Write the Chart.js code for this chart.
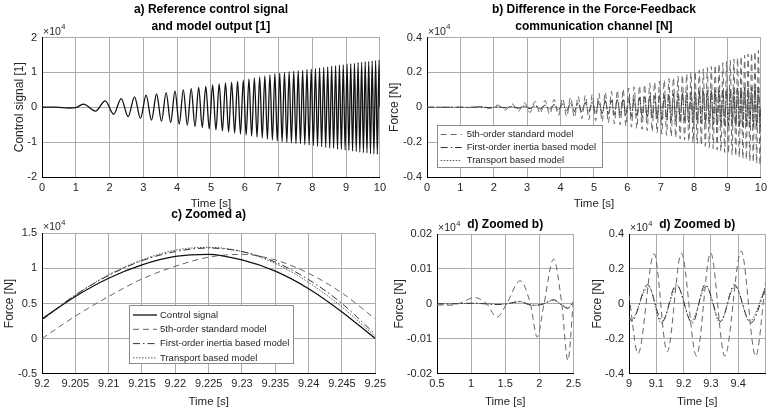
<!DOCTYPE html>
<html>
<head>
<meta charset="utf-8">
<script src="https://cdn.jsdelivr.net/npm/chart.js@4.4.0/dist/chart.umd.min.js"></script>
<style>
body { margin: 0; background: #fff; width: 771px; height: 412px; overflow: hidden; position: relative; }
canvas { position: absolute; }
</style>
</head>
<body>
<canvas id="ca" width="390" height="212" style="left:0;top:0"></canvas>
<canvas id="cb" width="386" height="212" style="left:385px;top:0"></canvas>
<canvas id="cc" width="390" height="207" style="left:0;top:205px"></canvas>
<canvas id="cdl" width="200" height="207" style="left:385px;top:205px"></canvas>
<canvas id="cdr" width="186" height="207" style="left:585px;top:205px"></canvas>
<script>
'use strict'
// all values in units of 1e4 (the "x10^4" on each axis)
let labels = ['Control signal', '5th-order standard model', 'First-order inertia based model', 'Transport based model'];

// times of the extrema of the chirp (read from a) and b))
let tExt = [0, 0.4, 0.8, 1.0,
1.225,1.581,1.871,2.121,2.345,2.55,2.739,2.915,3.082,3.24,
3.391,3.536,3.674,3.808,3.937,4.062,4.183,4.301,4.416,4.528,
4.637,4.743,4.848,4.95,5.05,5.148,5.244,5.339,5.431,5.523,
5.612,5.701,5.788,5.874,5.958,6.042,6.124,6.205,6.285,6.364,
6.442,6.519,6.595,6.671,6.745,6.819,6.892,6.964,7.036,7.106,
7.176,7.246,7.314,7.382,7.45,7.517,7.583,7.649,7.714,7.778,
7.842,7.906,7.969,8.031,8.093,8.155,8.216,8.276,8.337,8.396,
8.456,8.515,8.573,8.631,8.689,8.746,8.803,8.86,8.916,8.972,
9.028,9.083,9.138,9.192,9.247,9.301,9.354,9.407,9.46,9.513,
9.566,9.618,9.67,9.721,9.772,9.823,9.874,9.925,9.975,
10];

// a) control signal
let sigA = [0, 0.004, -0.022, -0.012,
0.09,-0.11,0.18,-0.2,0.25,-0.27,0.3,-0.32,0.35,-0.37,
0.38,-0.4,0.42,-0.44,0.46,-0.48,0.5,-0.51,0.53,-0.55,
0.57,-0.58,0.6,-0.62,0.64,-0.65,0.67,-0.68,0.7,-0.71,
0.72,-0.74,0.75,-0.77,0.78,-0.8,0.81,-0.83,0.84,-0.86,
0.87,-0.88,0.9,-0.91,0.93,-0.94,0.96,-0.97,0.98,-0.99,
1.0,-1.01,1.02,-1.02,1.03,-1.04,1.05,-1.05,1.06,-1.07,
1.08,-1.08,1.09,-1.1,1.11,-1.12,1.13,-1.13,1.14,-1.15,
1.16,-1.17,1.18,-1.18,1.19,-1.2,1.21,-1.21,1.22,-1.23,
1.24,-1.24,1.25,-1.26,1.26,-1.27,1.28,-1.29,1.29,-1.3,
1.31,-1.31,1.32,-1.33,1.33,-1.34,1.34,-1.35,1.35,
0];

// b) differences
let bDash = [0, 0, -0.0003, 0.0002,
-0.002,0.004,-0.007,0.012,-0.016,0.019,-0.023,0.027,-0.03,0.033,
-0.036,0.039,-0.042,0.045,-0.048,0.051,-0.054,0.057,-0.06,0.063,
-0.066,0.068,-0.071,0.074,-0.077,0.08,-0.083,0.086,-0.089,0.092,
-0.095,0.098,-0.101,0.104,-0.108,0.111,-0.114,0.117,-0.121,0.124,
-0.127,0.13,-0.134,0.137,-0.14,0.144,-0.147,0.15,-0.154,0.157,
-0.161,0.164,-0.168,0.171,-0.175,0.178,-0.182,0.185,-0.189,0.192,
-0.196,0.199,-0.203,0.206,-0.21,0.213,-0.217,0.22,-0.224,0.227,
-0.231,0.234,-0.238,0.241,-0.245,0.248,-0.252,0.255,-0.259,0.262,
-0.266,0.27,-0.273,0.277,-0.28,0.284,-0.287,0.291,-0.294,0.298,
-0.301,0.305,-0.308,0.312,-0.315,0.319,-0.322,0.326,-0.33,
0];
let bDashDot = [0, 0, 0, 0.0001,
-0.0006,0.001,-0.0017,0.0022,-0.003,0.0042,-0.0052,0.0065,-0.0082,0.0095,
-0.011,0.0125,-0.014,0.0155,-0.017,0.019,-0.02,0.022,-0.0235,0.025,
-0.027,0.028,-0.03,0.032,-0.033,0.035,-0.036,0.038,-0.04,0.041,
-0.043,0.044,-0.046,0.048,-0.049,0.051,-0.052,0.054,-0.055,0.057,
-0.058,0.06,-0.061,0.063,-0.065,0.066,-0.068,0.069,-0.071,0.072,
-0.074,0.075,-0.076,0.078,-0.079,0.08,-0.082,0.083,-0.084,0.086,
-0.087,0.088,-0.089,0.091,-0.092,0.093,-0.094,0.095,-0.096,0.097,
-0.098,0.099,-0.1,0.101,-0.102,0.103,-0.104,0.105,-0.105,0.106,
-0.107,0.108,-0.109,0.109,-0.11,0.111,-0.111,0.112,-0.113,0.113,
-0.114,0.114,-0.115,0.115,-0.116,0.116,-0.117,0.117,-0.118,
0];
let bDot = [0, 0, 0, 0.0001,
-0.0005,0.001,-0.0015,0.002,-0.003,0.004,-0.005,0.006,-0.008,0.009,
-0.01,0.012,-0.013,0.015,-0.016,0.018,-0.019,0.021,-0.022,0.024,
-0.025,0.027,-0.028,0.03,-0.031,0.033,-0.034,0.036,-0.037,0.039,
-0.04,0.042,-0.043,0.045,-0.046,0.048,-0.049,0.051,-0.052,0.054,
-0.055,0.057,-0.058,0.06,-0.061,0.063,-0.064,0.066,-0.067,0.069,
-0.07,0.071,-0.073,0.074,-0.075,0.077,-0.078,0.079,-0.08,0.082,
-0.083,0.084,-0.085,0.087,-0.088,0.089,-0.09,0.091,-0.092,0.093,
-0.094,0.095,-0.096,0.097,-0.098,0.099,-0.1,0.1,-0.101,0.102,
-0.103,0.104,-0.104,0.105,-0.106,0.107,-0.107,0.108,-0.109,0.109,
-0.11,0.111,-0.111,0.112,-0.112,0.113,-0.113,0.114,-0.114,
0];

// c) zoomed a)
let cT = [9.2,9.205,9.21,9.215,9.22,9.225,9.23,9.235,9.24,9.245,9.25];
let cCtrl = [0.28,0.6,0.86,1.05,1.17,1.2,1.12,0.96,0.71,0.38,0.0];
let cDash = [0.0,0.32,0.6,0.85,1.03,1.16,1.2,1.12,0.93,0.65,0.28];
let cDashDot = [0.27,0.62,0.9,1.11,1.24,1.29,1.24,1.09,0.84,0.5,0.06];
let cDot = [0.26,0.62,0.91,1.12,1.26,1.3,1.24,1.07,0.8,0.45,0.03];

// d) zoomed b), start of the run
let dlT = [0.5,0.7,0.85,1.05,1.22,1.38,1.52,1.72,1.87,1.97,2.07,2.21,2.33,2.42,2.5];
let dlDash = [-0.0003,-0.0004,0.0003,0.0018,0.0002,-0.0038,0.0,0.0066,0.0,-0.0095,0.0,0.0128,0.0,-0.0162,0.001];
let dlDashDot = [0,0,0.0001,0.0002,0.0,-0.0002,0.0,0.0007,-0.0003,-0.0004,0.0,0.0012,-0.0004,-0.0013,0.0005];
let dlDot = [0,0,0.0001,0.0001,0.0,-0.0001,0.0,0.0006,-0.0004,-0.0003,0.0002,0.001,-0.0002,-0.0011,0.0006];

// d) zoomed b), end of the run
let drTDash = [9.0,9.033,9.092,9.14,9.192,9.247,9.299,9.351,9.411,9.464,9.5];
let drDash = [0.05,-0.285,0.287,-0.275,0.29,-0.298,0.292,-0.3,0.302,-0.3,0.12];
let drTDashDot = [9.0,9.01,9.068,9.122,9.173,9.232,9.279,9.336,9.386,9.446,9.5];
let drDashDot = [-0.07,-0.1,0.11,-0.1,0.11,-0.11,0.11,-0.1,0.11,-0.11,0.09];
let drTDot = [9.0,9.006,9.072,9.118,9.177,9.228,9.283,9.332,9.389,9.442,9.5];
let drDot = [-0.085,-0.095,0.1,-0.11,0.105,-0.1,0.1,-0.105,0.1,-0.1,0.1];

Chart.defaults.font.family = '"Liberation Sans", Arial, Helvetica, sans-serif';
Chart.defaults.font.size = 11;
Chart.defaults.color = '#262626';

let styles = [
  {borderColor: '#111', borderWidth: 1.3, borderDash: []},
  {borderColor: '#666', borderWidth: 1, borderDash: [6, 4]},
  {borderColor: '#333', borderWidth: 1, borderDash: [7, 3, 1.5, 3]},
  {borderColor: '#5a5a5a', borderWidth: 1, borderDash: [1.5, 1.5]}
];

function pts(xs, ys) {
  return xs.map((x, i) => ({x: x, y: ys[i]}));
}
function series(which, xs, ys) {
  return Object.assign({label: labels[which], data: pts(xs, ys), pointRadius: 0, fill: false,
    cubicInterpolationMode: 'monotone'}, styles[which]);
}
function fmt(v) {
  return parseFloat(v.toFixed(4)).toString();
}

// "x10^4" above the y axis
let expPlugin = {
  id: 'exp',
  afterDraw(chart) {
    let c = chart.ctx, a = chart.chartArea;
    c.save();
    c.fillStyle = '#262626';
    c.textBaseline = 'alphabetic';
    c.font = '10.5px "Liberation Sans", Arial';
    c.fillText('\u00d710', a.left + 1, a.top - 3);
    let w = c.measureText('\u00d710').width;
    c.font = '7.5px "Liberation Sans", Arial';
    c.fillText('4', a.left + 1 + w + 0.5, a.top - 8.5);
    c.restore();
  }
};

// MATLAB style legend box inside the axes
let boxLegend = {
  id: 'boxLegend',
  afterDraw(chart, args, o) {
    if (!o || !o.items) return;
    let c = chart.ctx;
    c.save();
    c.fillStyle = '#fff';
    c.fillRect(o.x, o.y, o.w, o.h);
    c.strokeStyle = '#8c8c8c';
    c.lineWidth = 1;
    c.strokeRect(Math.round(o.x) + 0.5, Math.round(o.y) + 0.5, o.w, o.h);
    o.items.forEach((di, i) => {
      let ds = chart.data.datasets[di];
      let yy = o.y + o.first + i * o.row;
      c.strokeStyle = ds.borderColor;
      c.lineWidth = ds.borderWidth;
      c.setLineDash(ds.borderDash);
      c.beginPath();
      c.moveTo(o.x + 4, yy);
      c.lineTo(o.x + 4 + o.lineLen, yy);
      c.stroke();
      c.setLineDash([]);
      c.fillStyle = '#262626';
      c.font = '9.5px "Liberation Sans", Arial';
      c.textBaseline = 'middle';
      c.fillText(ds.label, o.x + o.textX, yy);
    });
    c.restore();
  }
};

function panel(id, p) {
  let ctx = document.getElementById(id).getContext('2d');
  return new Chart(ctx, {
    type: 'line',
    data: {datasets: p.datasets},
    options: {
      animation: false,
      responsive: false,
      devicePixelRatio: 1,
      layout: {padding: {left: 0, right: p.padRight, top: 0, bottom: 0}},
      plugins: {
        legend: {display: false},
        tooltip: {enabled: false},
        title: {display: true, text: p.title, fullSize: false, color: '#000',
          font: {size: 12, weight: 'bold', lineHeight: 1.4}, padding: p.titlePad},
        boxLegend: p.legend || {}
      },
      scales: {
        x: {
          type: 'linear', min: p.xMin, max: p.xMax,
          afterFit: s => { s.height = p.xH },
          ticks: {stepSize: p.xStep, autoSkip: false, maxRotation: 0, padding: 4,
            callback: p.xCb || fmt},
          grid: {color: '#ababab', drawTicks: false},
          border: {color: '#000', width: 1},
          title: {display: true, text: 'Time [s]', font: {size: 11.5}, padding: {top: 0, bottom: p.xTitleBottom}}
        },
        y: {
          type: 'linear', min: p.yMin, max: p.yMax,
          afterFit: s => { s.width = p.yW },
          ticks: {stepSize: p.yStep, autoSkip: false, padding: 5, callback: fmt},
          grid: {color: '#ababab', drawTicks: false},
          border: {color: '#000', width: 1},
          title: {display: true, text: p.yTitle, font: {size: 12}, padding: {top: p.yTitleTop, bottom: 0}}
        }
      }
    },
    plugins: [expPlugin, boxLegend]
  });
}

// a)
panel('ca', {
  title: ['a) Reference control signal', 'and model output [1]'],
  titlePad: {top: 1.6, bottom: 2.3},
  padRight: 9, yW: 42, xH: 35, xTitleBottom: 1,
  xMin: 0, xMax: 10, xStep: 1, yMin: -2, yMax: 2, yStep: 1,
  yTitle: 'Control signal [1]', yTitleTop: 12,
  datasets: [series(0, tExt, sigA)]
});

// b)
panel('cb', {
  title: ['b) Difference in the Force-Feedback', 'communication channel [N]'],
  titlePad: {top: 1.6, bottom: 2.3},
  padRight: 6, yW: 42, xH: 35, xTitleBottom: 1,
  xMin: 0, xMax: 10, xStep: 1, yMin: -0.4, yMax: 0.4, yStep: 0.2,
  yTitle: 'Force [N]', yTitleTop: 2.8,
  datasets: [series(1, tExt, bDash), series(2, tExt, bDashDot), series(3, tExt, bDot)],
  legend: {x: 51.7, y: 125, w: 165, h: 42, first: 9.5, row: 13, lineLen: 21, textX: 30, items: [0, 1, 2]}
});

// c)
panel('cc', {
  title: 'c) Zoomed a)',
  titlePad: {top: 1.6, bottom: 9.9},
  padRight: 9, yW: 42, xH: 38.3, xTitleBottom: 3,
  xMin: 9.2, xMax: 9.25, xStep: 0.005, yMin: -0.5, yMax: 1.5, yStep: 0.5,
  yTitle: 'Force [N]', yTitleTop: 2.8,
  datasets: [series(0, cT, cCtrl), series(1, cT, cDash), series(2, cT, cDashDot), series(3, cT, cDot)],
  legend: {x: 129, y: 100, w: 164, h: 58, first: 10, row: 14.3, lineLen: 24, textX: 31, items: [0, 1, 2, 3]}
});

// d) left
panel('cdl', {
  title: 'd) Zoomed b)',
  titlePad: {top: 10.9, bottom: 1.3},
  padRight: 11.5, yW: 52, xH: 38.3, xTitleBottom: 3,
  xMin: 0.5, xMax: 2.5, xStep: 0.5, yMin: -0.02, yMax: 0.02, yStep: 0.01,
  yTitle: 'Force [N]', yTitleTop: 7.8,
  datasets: [series(1, dlT, dlDash), series(2, dlT, dlDashDot), series(3, dlT, dlDot)]
});

// d) right
panel('cdr', {
  title: 'd) Zoomed b)',
  titlePad: {top: 10.9, bottom: 1.3},
  padRight: 5.5, yW: 44, xH: 38.3, xTitleBottom: 3,
  xMin: 9, xMax: 9.5, xStep: 0.1, yMin: -0.4, yMax: 0.4, yStep: 0.2,
  xCb: v => Math.abs(v - 9.5) < 1e-6 ? '' : fmt(v),
  yTitle: 'Force [N]', yTitleTop: 5.8,
  datasets: [series(1, drTDash, drDash), series(2, drTDashDot, drDashDot), series(3, drTDot, drDot)]
});
</script>
</body>
</html>
